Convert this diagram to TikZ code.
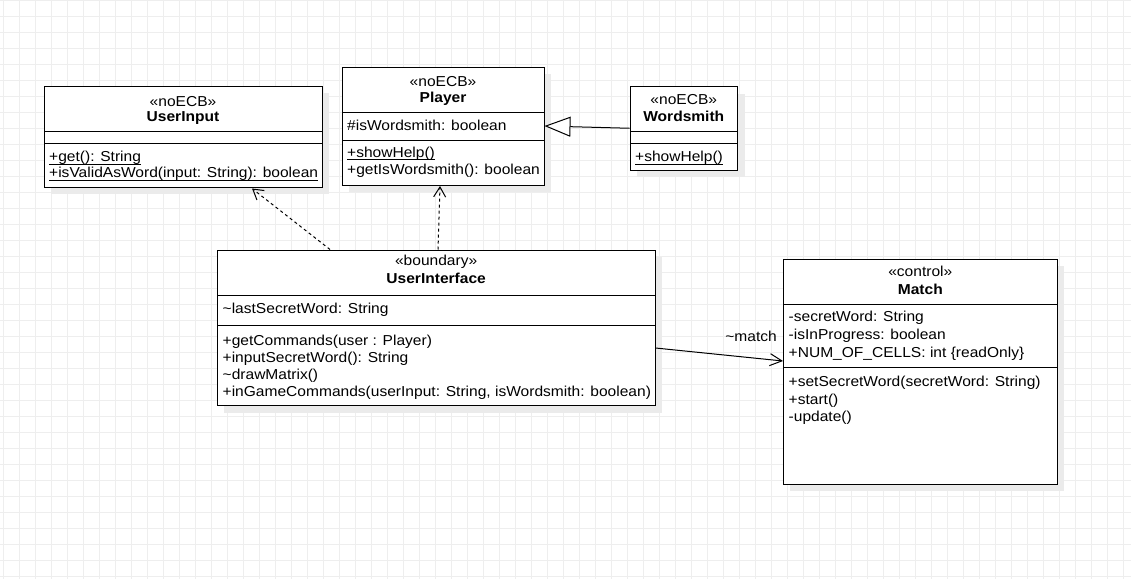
\documentclass[tikz,border=0pt]{standalone}
\usepackage{fontspec}
\setmainfont{Liberation Sans}[FakeStretch=1.08]
\usepackage{tikz}
\usetikzlibrary{arrows.meta,shadows}
\definecolor{gridline}{HTML}{EEEEEE}
\definecolor{shade}{HTML}{EBEBEB}
\newcommand{\ulin}[1]{\setbox0=\hbox{#1}\rlap{\copy0}\rule[-2.8pt]{\wd0}{0.9pt}}

\begin{document}
\begin{tikzpicture}[x=1pt,y=-1pt,font=\fontsize{14.4}{17.3}\selectfont,
    classbox/.style={draw,line width=1pt,fill=white,inner sep=0pt,
      drop shadow={shadow xshift=7pt,shadow yshift=-7pt,fill=shade,opacity=1}},
    stereo/.style={anchor=base,inner sep=0pt},
    title/.style={anchor=base,inner sep=0pt,font=\fontsize{14.4}{17.3}\selectfont\bfseries},
    member/.style={anchor=base west,inner sep=0pt},
    compart/.style={line width=1pt},
    dep/.style={line width=1pt,dash pattern=on 3pt off 3pt,-{Straight Barb[length=10pt,width=12pt]}},
    assoc/.style={line width=1pt,-{Straight Barb[length=12pt,width=12pt]}},
    inherit/.style={line width=1pt,-{Triangle[length=26pt,width=20pt,fill=white]}}]
      \useasboundingbox (0,0) rectangle (1131,579);
      \fill[white] (0,0) rectangle (1131,579);
      \foreach \gx in {3,19,...,1123}{\draw[gridline,line width=1pt] (\gx,0) -- (\gx,579);}
      \foreach \gy in {0,16,...,576}{\draw[gridline,line width=1pt] (0,\gy) -- (1131,\gy);}
      % UserInput
      \node[classbox,minimum width=278pt,minimum height=101pt] (userinput) at (183,136.5) {};
      \node[stereo] (userinput-st) at (183,106) {«noECB»};
      \node[title] (userinput-t) at (183,121) {UserInput};
      \draw[compart] (44,131.7) -- (322,131.7);
      \draw[compart] (44,143.3) -- (322,143.3);
      \node[member] (userinput-m1) at (49,161.7) {\ulin{+get(): String}};
      \node[member] (userinput-m2) at (49,177.7) {\ulin{+isValidAsWord(input: String): boolean}};
      % Player
      \node[classbox,minimum width=202pt,minimum height=118pt] (player) at (443,126) {};
      \node[stereo] (player-st) at (443,86) {«noECB»};
      \node[title] (player-t) at (443,102.7) {Player};
      \draw[compart] (342,112.7) -- (544,112.7);
      \node[member] (player-a1) at (347,130) {\#isWordsmith: boolean};
      \draw[compart] (342,140) -- (544,140);
      \node[member] (player-m1) at (347,157.3) {\ulin{+showHelp()}};
      \node[member] (player-m2) at (347,174.3) {+getIsWordsmith(): boolean};
      % Wordsmith
      \node[classbox,minimum width=107.5pt,minimum height=83.5pt] (wordsmith) at (683.75,128.25) {};
      \node[stereo] (wordsmith-st) at (683.75,104.3) {«noECB»};
      \node[title] (wordsmith-t) at (683.75,121.7) {Wordsmith};
      \draw[compart] (630,131.7) -- (737.5,131.7);
      \draw[compart] (630,143.3) -- (737.5,143.3);
      \node[member] (wordsmith-m1) at (635,161.7) {\ulin{+showHelp()}};
      % UserInterface
      \node[classbox,minimum width=437.7pt,minimum height=155.7pt] (ui) at (436.15,327.85) {};
      \node[stereo] (ui-st) at (436.15,265) {«boundary»};
      \node[title] (ui-t) at (436.15,283.3) {UserInterface};
      \draw[compart] (217.3,295.7) -- (655,295.7);
      \node[member] (ui-a1) at (222.5,313.3) {\textasciitilde lastSecretWord: String};
      \draw[compart] (217.3,325) -- (655,325);
      \foreach \y/\txt [count=\i] in {345/{+getCommands(user : Player)},
          362/{+inputSecretWord(): String},
          379.3/{\textasciitilde drawMatrix()},
          396.7/{+inGameCommands(userInput: String, isWordsmith: boolean)}}{
        \node[member] (ui-m\i) at (222.5,\y) {\txt};}
      % Match
      \node[classbox,minimum width=274pt,minimum height=225pt] (match) at (920.3,371.8) {};
      \node[stereo] (match-st) at (920.3,276) {«control»};
      \node[title] (match-t) at (920.3,294.3) {Match};
      \draw[compart] (783.3,304) -- (1057.3,304);
      \foreach \y/\txt [count=\i] in {321.7/{-secretWord: String},
          339.3/{-isInProgress: boolean},
          357.3/{+NUM\_OF\_CELLS: int \{readOnly\}}}{
        \node[member] (match-a\i) at (788.5,\y) {\txt};}
      \draw[compart] (783.3,367.7) -- (1057.3,367.7);
      \foreach \y/\txt [count=\i] in {386/{+setSecretWord(secretWord: String)},
          404/{+start()},
          421.7/{-update()}}{
        \node[member] (match-m\i) at (788.5,\y) {\txt};}
      % relations
      \coordinate (ui-d1) at (330,249.5);
      \coordinate (userinput-d1) at (252,188.5);
      \coordinate (ui-d2) at (438,249.5);
      \coordinate (player-d2) at (440,186);
      \coordinate (ui-as) at (655.5,348);
      \coordinate (match-as) at (783,361);
      \draw[dep] (ui-d1) -- (userinput-d1);
      \draw[dep] (ui-d2) -- (player-d2);
      \draw[inherit] (wordsmith.west) -- (player.east);
      \draw[assoc] (ui-as) -- (match-as);
      \node[anchor=base east,inner sep=0pt] (match-lbl) at (777,341.7) {\textasciitilde match};
    \end{tikzpicture}
\end{document}
